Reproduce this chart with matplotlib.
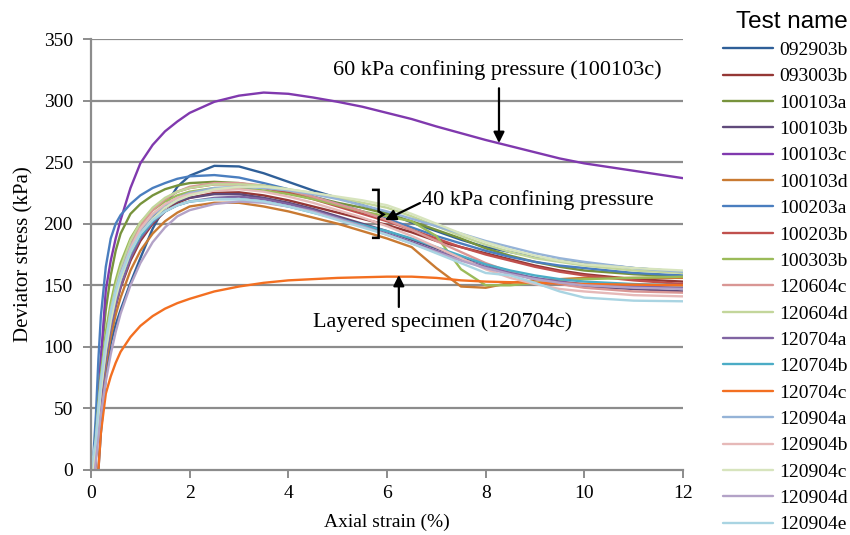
import matplotlib
matplotlib.use("Agg")
import matplotlib.pyplot as plt
import numpy as np

# ---------------- data ----------------
STRAIN = [0.1, 0.15, 0.2, 0.3, 0.4, 0.5, 0.6, 0.8, 1.0, 1.25, 1.5, 1.75, 2.0, 2.5, 3.0,
          3.5, 4.0, 4.5, 5.0, 5.5, 6.0, 6.5, 7.0, 7.5, 8.0, 8.5, 9.0, 9.5, 10.0, 11.0, 12.0]

names = ["092903b", "093003b", "100103a", "100103b", "100103c", "100103d", "100203a",
         "100203b", "100303b", "120604c", "120604d", "120704a", "120704b", "120704c",
         "120904a", "120904b", "120904c", "120904d", "120904e"]

start_strain = [0.15, 0.08, 0.05, 0.05, 0.08, 0.08, 0.03, 0.06, 0.04, 0.06, 0.05, 0.07,
                0.05, 0.15, 0.03, 0.04, 0.04, 0.08, 0.0]

colors = ["#2F5F98", "#953735", "#77933C", "#604A7B", "#8039AE", "#C97A32", "#4A7EBF",
          "#C0504D", "#9BBB59", "#D99694", "#C3D69B", "#8064A2", "#4BACC6", "#F36F21",
          "#95B3D7", "#E6B9B8", "#D7E4BD", "#B3A2C7", "#A9D4E2"]

s_092903b = [None, None, 30, 75, 103, 118, 130, 152, 172, 196, 214, 230, 239, 247, 246.5,
             241, 234, 227, 221, 215, 209, 201, 194, 187, 181, 177, 173, 170, 168, 164, 161]
s_093003b = [12, 38, 60, 92, 115, 133, 148, 170, 186, 200, 210, 217, 221, 225, 225.5,
             223, 219, 214, 209, 204, 199, 193, 186, 181, 176, 171, 166, 162, 159, 155, 153]
s_100103a = [30, 62, 90, 130, 158, 178, 192, 208, 216, 223, 228, 231, 233, 234, 233,
             230, 226, 222, 217, 213, 208, 202, 195, 188, 180, 174, 169, 165, 162, 159, 157]
s_100103b = [20, 45, 68, 100, 125, 143, 157, 178, 193, 205, 213, 218, 221, 224, 224,
             221, 217, 212, 206, 200, 194, 187, 180, 173, 167, 160, 155, 151, 149, 147, 145]
s_100103c = [15, 50, 90, 146, 170, 188, 203, 229, 249, 264, 275, 283, 290, 299, 304,
             306.5, 305.5, 302.5, 299, 295, 290, 285, 279, 273.5, 268, 263, 258, 253, 249, 243, 237]
s_100103d = [10, 35, 55, 85, 108, 126, 140, 162, 178, 192, 202, 209, 214, 217, 217,
             214, 210, 205, 200, 194, 188, 181, 164, 149, 148, 152, 154, 155, 156, 156, 156]
s_100203a = [45, 90, 125, 165, 188, 200, 207, 216, 223, 229, 233, 236.5, 238.5, 239.5, 237.5,
             233, 228, 222, 216, 210, 204, 197, 190, 184, 178, 173, 169, 166, 164, 160, 158]
s_100203b = [18, 45, 68, 102, 128, 148, 163, 185, 200, 212, 220, 226, 229, 232, 232,
             229, 225, 220, 214, 208, 202, 195, 188, 181, 175, 170, 165, 161, 158, 154, 151]
s_100303b = [28, 55, 78, 112, 136, 154, 168, 188, 201, 211, 218, 223, 226, 229, 229,
             227, 224, 220, 215, 210, 206, 202, 190, 163, 150, 150, 152, 154, 155, 156, 157]
s_120604c = [15, 40, 62, 96, 122, 142, 158, 182, 198, 211, 220, 226, 230, 233, 233,
             231, 227, 222, 216, 210, 203, 195, 186, 177, 168, 161, 155, 151, 148, 145, 144]
s_120604d = [22, 48, 70, 104, 130, 149, 164, 186, 201, 213, 221, 226, 229, 232, 232,
             231, 228, 225, 221, 217, 213, 206, 198, 190, 183, 177, 172, 169, 166, 162, 160]
s_120704a = [12, 36, 57, 90, 115, 134, 149, 172, 188, 201, 210, 215, 218, 221, 222,
             220, 216, 211, 205, 198, 192, 185, 178, 171, 165, 160, 156, 153, 151, 149, 148]
s_120704b = [20, 44, 66, 98, 122, 140, 155, 176, 190, 202, 210, 215, 218, 220, 220,
             218, 214, 209, 204, 199, 194, 188, 181, 174, 167, 162, 158, 155, 153, 151, 150]
s_120704c = [None, None, 30, 62, 76, 87, 96, 108, 117, 125, 131, 135.5, 139, 145, 149,
             152, 154, 155, 156, 156.5, 157, 157, 156, 154, 153, 152.5, 152, 151.5, 151, 150.5, 150]
s_120904a = [25, 50, 72, 104, 128, 146, 160, 181, 195, 207, 215, 221, 225, 229, 230,
             229, 227, 224, 220, 215, 210, 204, 198, 192, 186, 181, 176, 172, 169, 164, 161]
s_120904b = [20, 45, 66, 99, 124, 143, 158, 180, 196, 208, 216, 221, 224, 227, 228,
             226, 222, 217, 211, 205, 198, 190, 181, 172, 163, 156, 151, 147, 145, 142, 141]
s_120904c = [20, 44, 65, 97, 121, 140, 155, 177, 192, 204, 213, 219, 223, 228, 230,
             230, 228, 225, 222, 219, 215, 208, 200, 192, 185, 179, 174, 170, 167, 164, 162]
s_120904d = [8, 28, 45, 72, 94, 112, 127, 150, 168, 185, 197, 206, 211, 216, 218,
             217, 214, 210, 204, 198, 191, 184, 177, 170, 164, 159, 155, 152, 150, 148, 147]
s_120904e = [25, 50, 72, 104, 128, 145, 158, 178, 192, 203, 210, 215, 218, 220, 220,
             218, 214, 209, 203, 197, 191, 184, 176, 168, 160, 158, 152, 145, 140, 137.5, 137]

stress = [s_092903b, s_093003b, s_100103a, s_100103b, s_100103c, s_100103d, s_100203a,
          s_100203b, s_100303b, s_120604c, s_120604d, s_120704a, s_120704b, s_120704c,
          s_120904a, s_120904b, s_120904c, s_120904d, s_120904e]

x_ticks = [0, 2, 4, 6, 8, 10, 12]
y_ticks = [0, 50, 100, 150, 200, 250, 300, 350]

# ---------------- figure ----------------
SERIF = ["Liberation Serif", "DejaVu Serif"]
SANS = ["Liberation Sans", "DejaVu Sans"]
GRID = "#8C8C8C"

fig = plt.figure(figsize=(8.5, 5.35), dpi=100)
ax = fig.add_axes([91 / 850, 1 - 470 / 535, (683 - 91) / 850, (470 - 39) / 535])

for yv in y_ticks[1:]:
    ax.axhline(yv, color=GRID, lw=1.6, zorder=0)

for name, x0, col, vals in zip(names, start_strain, colors, stress):
    xs = [x0] + [g for g, v in zip(STRAIN, vals) if v is not None]
    ys = [0] + [v for v in vals if v is not None]
    ax.plot(xs, ys, color=col, lw=1.7, label=name, solid_capstyle="round",
            solid_joinstyle="round", zorder=2)

ax.set_xlim(0, 12)
ax.set_ylim(0, 350)
ax.set_xticks(x_ticks)
ax.set_yticks(y_ticks)
for sp in ["top", "right"]:
    ax.spines[sp].set_visible(False)
for sp in ["left", "bottom"]:
    ax.spines[sp].set_color(GRID)
    ax.spines[sp].set_linewidth(1.6)
ax.tick_params(axis="both", direction="out", length=6, width=1.4, color=GRID,
               labelsize=14, labelcolor="black")
ax.tick_params(axis="y", pad=7)
ax.tick_params(axis="x", pad=5)
for lab in ax.get_xticklabels() + ax.get_yticklabels():
    lab.set_fontfamily(SERIF)
ax.set_xlabel("Axial strain (%)", fontsize=14, family=SERIF, labelpad=8)
ax.set_ylabel("Deviator stress (kPa)", fontsize=15, family=SERIF, labelpad=7)

# annotations
arrow = dict(arrowstyle="-|>", color="black", lw=1.6, mutation_scale=16, shrinkA=0, shrinkB=0)
ax.text(8.23, 324.8, "60 kPa confining pressure (100103c)", fontsize=16, family=SERIF,
        ha="center", va="center")
ax.annotate("", xy=(8.27, 265.5), xytext=(8.27, 310), arrowprops=arrow)

ax.text(6.71, 219, "40 kPa confining pressure", fontsize=16, family=SERIF,
        ha="left", va="center")
ax.annotate("", xy=(5.96, 203), xytext=(6.67, 216.8), arrowprops=arrow)
bx = [5.72, 5.83, 5.83, 5.93, 5.83, 5.83, 5.72]
by = [227.5, 227.5, 210, 207.5, 205, 188.5, 188.5]
ax.plot(bx, by, color="black", lw=1.8, solid_joinstyle="miter", zorder=5)

ax.text(7.13, 120.2, "Layered specimen (120704c)", fontsize=16, family=SERIF,
        ha="center", va="center")
ax.annotate("", xy=(6.24, 158.4), xytext=(6.24, 132.4), arrowprops=arrow)

# legend
handles, labels = ax.get_legend_handles_labels()
leg = fig.legend(handles, labels, loc="upper left", bbox_to_anchor=(709 / 850, 1 + 3 / 535),
                 frameon=False, prop={"family": SERIF, "size": 14}, title="Test name",
                 title_fontproperties={"family": SANS, "size": 17.5},
                 handlelength=2.6, handletextpad=0.3, labelspacing=0.45, borderpad=0.2)
leg._legend_box.align = "right"

fig.savefig("out.png", dpi=100)
